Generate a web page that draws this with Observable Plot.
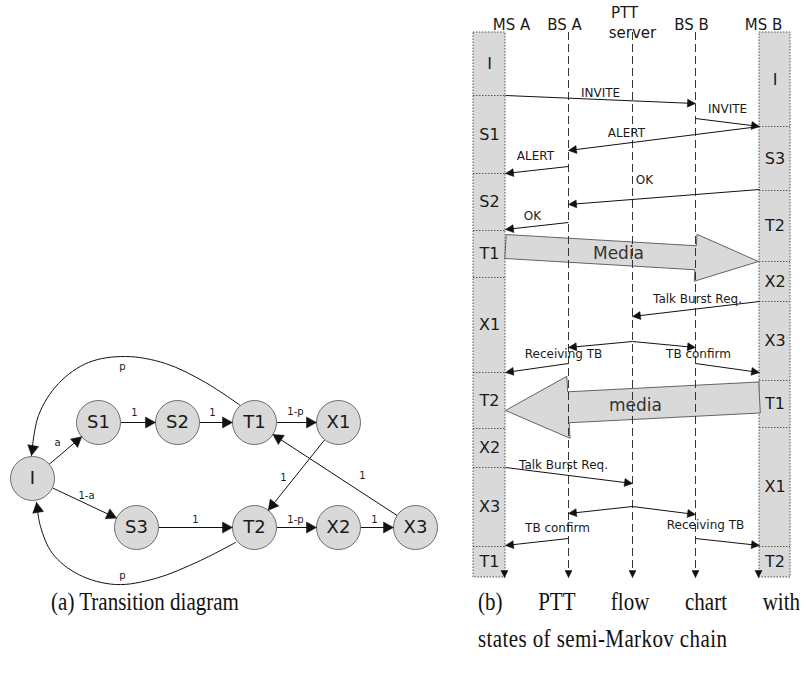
<!DOCTYPE html>
<html>
<head>
<meta charset="utf-8">
<script src="https://cdn.jsdelivr.net/npm/d3@7"></script>
<script src="https://cdn.jsdelivr.net/npm/@observablehq/plot@0.6"></script>
<style>
  body { margin: 0; background: #fff; }
  #wrap { position: relative; width: 806px; height: 673px; overflow: hidden; }
  .cap { position: absolute; font-family: "Liberation Serif", "Times New Roman", serif; font-size: 21px; color: #111; line-height: 1; transform: scaleY(1.15); transform-origin: 50% 50%; }
  #capA { left: 0; width: 290px; text-align: center; top: 592px; }
  #capB1 { left: 478px; width: 322px; top: 592px; text-align: justify; text-align-last: justify; }
  #capB2 { left: 478px; top: 629px; white-space: nowrap; letter-spacing: 0.4px; }
</style>
</head>
<body>
<div id="wrap">
  <div id="fig"></div>
  <div class="cap" id="capA">(a) Transition diagram</div>
  <div class="cap" id="capB1">(b) PTT flow chart with</div>
  <div class="cap" id="capB2">states of semi-Markov chain</div>
</div>
<script>
// ---------- (a) transition diagram data ----------
const nodeIds = ["I", "S1", "S2", "T1", "X1", "S3", "T2", "X2", "X3"];
const nodeX   = [32, 98, 177, 254, 338, 136, 254, 338, 415];
const nodeY   = [478, 422, 422, 422, 422, 527, 527, 527, 527];

const edgeFrom   = ["I", "I", "S1", "S2", "T1", "X1", "X3", "S3", "T2", "X2"];
const edgeTo     = ["S1", "S3", "S2", "T1", "X1", "T2", "T1", "T2", "X2", "X3"];
const edgeLabels = ["a", "1-a", "1", "1", "1-p", "1", "1", "1", "1-p", "1"];
const edgeLabelX = [57, 86, 134, 212, 295, 283, 362, 195, 295, 374];
const edgeLabelY = [442, 495, 412, 412, 411, 477, 475, 519, 519, 519];

// return arcs labelled "p" (T1 -> I over the top, T2 -> I under the bottom)
const arcLabels = ["p", "p"];
const arcLabelX = [122, 122];
const arcLabelY = [366, 575];
const arcTopX = [240, 205, 165, 125, 88, 58, 38, 31];
const arcTopY = [405, 382, 363, 356, 362, 383, 415, 455];
const arcBotX = [235, 200, 155, 115, 78, 52, 40, 36];
const arcBotY = [542, 560, 578, 584, 574, 553, 526, 502];

// ---------- (b) PTT flow chart data ----------
const headerText = ["MS A", "BS A", "PTT", "server", "BS B", "MS B"];
const headerX    = [511, 564, 624, 632, 691, 763];
const headerY    = [25, 25, 13, 33, 25, 25];

const lifelineNames = ["MS A", "BS A", "PTT server", "BS B", "MS B"];
const lifelineX     = [504, 568, 632, 695, 758];

const msAStates = ["I", "S1", "S2", "T1", "X1", "T2", "X2", "X3", "T1"];
const msABounds = [32, 95, 173, 230, 277, 372, 428, 467, 546, 577];
const msBStates = ["I", "S3", "T2", "X2", "X3", "T1", "X1", "T2"];
const msBBounds = [32, 126, 190, 261, 301, 380, 427, 546, 577];

// message arrows (head at the end point)
const msgX1 = [505, 695, 759, 568, 759, 568, 759, 632, 632, 568, 695, 505, 632, 632, 568, 695];
const msgY1 = [95, 118, 126, 166, 189, 222, 301, 341, 341, 363, 363, 467, 506, 506, 538, 538];
const msgX2 = [695, 759, 568, 505, 568, 505, 632, 568, 695, 505, 759, 632, 568, 695, 505, 759];
const msgY2 = [103, 126, 150, 173, 204, 229, 316, 347, 347, 372, 372, 483, 513, 514, 545, 545];

const msgLabels = ["INVITE", "INVITE", "ALERT", "ALERT", "OK", "OK", "Talk Burst Req.", "Receiving TB", "TB confirm", "Talk Burst Req.", "TB confirm", "Receiving TB"];
const msgLabelX = [600, 727, 626, 535, 644, 532, 697, 563, 698, 563, 557, 705];
const msgLabelY = [93, 109, 133, 156, 180, 216, 299, 354, 354, 465, 528, 525];

// media streams (block arrows)
const mediaLabels = ["Media", "media"];
const mediaFromX = [505, 759];
const mediaFromY = [246, 397];
const mediaToX   = [758, 505];
const mediaToY   = [261, 410];
const mediaLabelX = [618, 635];
const mediaLabelY = [253, 405];

// ---------- build mark data ----------
const R = 22;
const nodes = nodeIds.map((id, i) => ({id, x: nodeX[i], y: nodeY[i]}));
const nodeById = Object.fromEntries(nodes.map(n => [n.id, n]));

let heads = [];
let hid = 0;
function addHead(tx, ty, fx, fy, len, half) {
  const dx = tx - fx, dy = ty - fy, L = Math.hypot(dx, dy), ux = dx / L, uy = dy / L;
  const bx = tx - ux * len, by = ty - uy * len;
  const id = hid++;
  heads.push({id, x: tx, y: ty}, {id, x: bx - uy * half, y: by + ux * half},
             {id, x: bx + uy * half, y: by - ux * half}, {id, x: tx, y: ty});
}

const edgeSegs = edgeFrom.map((f, i) => {
  const a = nodeById[f], b = nodeById[edgeTo[i]];
  const dx = b.x - a.x, dy = b.y - a.y, L = Math.hypot(dx, dy), ux = dx / L, uy = dy / L;
  const sx = a.x + ux * R, sy = a.y + uy * R, tx = b.x - ux * R, ty = b.y - uy * R;
  addHead(tx, ty, sx, sy, 10, 5.5);
  return {x1: sx, y1: sy, x2: tx - ux * 5, y2: ty - uy * 5};
});
const edgeText = edgeLabels.map((t, i) => ({t, x: edgeLabelX[i], y: edgeLabelY[i]}));

const arcs = [];
arcTopX.forEach((x, i) => arcs.push({arc: "top", x, y: arcTopY[i]}));
arcBotX.forEach((x, i) => arcs.push({arc: "bot", x, y: arcBotY[i]}));
{
  const n = arcTopX.length - 1;
  addHead(arcTopX[n], arcTopY[n], arcTopX[n - 1], arcTopY[n - 1], 10, 5.5);
  const m = arcBotX.length - 1;
  addHead(arcBotX[m], arcBotY[m], arcBotX[m - 1], arcBotY[m - 1], 10, 5.5);
}
const arcText = arcLabels.map((t, i) => ({t, x: arcLabelX[i], y: arcLabelY[i]}));

// flow chart
const boxes = [
  {x1: 473, x2: 505, y1: msABounds[0], y2: msABounds[msABounds.length - 1]},
  {x1: 759, x2: 790, y1: msBBounds[0], y2: msBBounds[msBBounds.length - 1]}
];
const seps = [];
msABounds.slice(1, -1).forEach(y => seps.push({y, x1: 473, x2: 505}));
msBBounds.slice(1, -1).forEach(y => seps.push({y, x1: 759, x2: 790}));
const stateText = [];
msAStates.forEach((s, i) => stateText.push({t: s, x: 489, y: (msABounds[i] + msABounds[i + 1]) / 2}));
msBStates.forEach((s, i) => stateText.push({t: s, x: 774.5, y: (msBBounds[i] + msBBounds[i + 1]) / 2}));

const headers = headerText.map((t, i) => ({t, x: headerX[i], y: headerY[i]}));
const lifelines = lifelineNames.map((name, i) => ({name, x: lifelineX[i]}));
const dashedLifelines = lifelines.filter(d => d.name !== "MS A" && d.name !== "MS B");
lifelines.forEach(d => addHead(d.x, 577, d.x, 560, 7, 3.5));

const msgs = msgX1.map((x1, i) => {
  const x2 = msgX2[i], y2 = msgY2[i], y1 = msgY1[i];
  addHead(x2, y2, x1, y1, 8, 4);
  const L = Math.hypot(x2 - x1, y2 - y1);
  return {x1, y1, x2: x2 - (x2 - x1) / L * 4, y2: y2 - (y2 - y1) / L * 4};
});
const msgText = msgLabels.map((t, i) => ({t, x: msgLabelX[i], y: msgLabelY[i]}));

const mediaBody = [12, 15.5], mediaHead = [23.5, 31], mediaHeadLen = 63;
const mediaPolys = [];
mediaLabels.forEach((lab, i) => {
  const sx = mediaFromX[i], sy = mediaFromY[i], tx = mediaToX[i], ty = mediaToY[i];
  const dx = tx - sx, dy = ty - sy, L = Math.hypot(dx, dy), ux = dx / L, uy = dy / L;
  const nx = -uy, ny = ux;
  const bx = tx - ux * mediaHeadLen, by = ty - uy * mediaHeadLen;
  const bh = mediaBody[i], hh = mediaHead[i];
  const pts = [
    [sx + nx * bh, sy + ny * bh], [bx + nx * bh, by + ny * bh], [bx + nx * hh, by + ny * hh],
    [tx, ty], [bx - nx * hh, by - ny * hh], [bx - nx * bh, by - ny * bh], [sx - nx * bh, sy - ny * bh],
    [sx + nx * bh, sy + ny * bh]
  ];
  pts.forEach(([x, y]) => mediaPolys.push({m: lab, x, y}));
});
const mediaText = mediaLabels.map((t, i) => ({t, x: mediaLabelX[i], y: mediaLabelY[i]}));

const SANS = "DejaVu Sans, Verdana, sans-serif";

const chart = Plot.plot({
  width: 806,
  height: 590,
  margin: 0,
  x: {domain: [0, 806], range: [0, 806], axis: null},
  y: {domain: [0, 590], range: [0, 590], axis: null},
  style: {background: "#fff", overflow: "visible"},
  marks: [
    // (a)
    Plot.line(arcs, {x: "x", y: "y", z: "arc", curve: "catmull-rom", stroke: "#111", strokeWidth: 1}),
    Plot.link(edgeSegs, {x1: "x1", y1: "y1", x2: "x2", y2: "y2", stroke: "#111", strokeWidth: 1}),
    Plot.dot(nodes, {x: "x", y: "y", r: R, fill: "#d9d9d9", stroke: "#6e6e6e", strokeWidth: 1}),
    Plot.text(nodes, {x: "x", y: "y", text: "id", fontFamily: SANS, fontSize: 18, fill: "#1a1a1a"}),
    Plot.text(edgeText, {x: "x", y: "y", text: "t", fontFamily: SANS, fontSize: 10, fill: "#1a1a1a"}),
    Plot.text(arcText, {x: "x", y: "y", text: "t", fontFamily: SANS, fontSize: 10, fill: "#1a1a1a"}),
    // (b)
    Plot.rect(boxes, {x1: "x1", x2: "x2", y1: "y1", y2: "y2", fill: "#d9d9d9", stroke: "#555", strokeWidth: 1, strokeDasharray: "1.5,1.5"}),
    Plot.ruleY(seps, {y: "y", x1: "x1", x2: "x2", stroke: "#555", strokeWidth: 1, strokeDasharray: "1.5,1.5"}),
    Plot.line(mediaPolys, {x: "x", y: "y", z: "m", curve: "linear", fill: "#d9d9d9", stroke: "#555", strokeWidth: 0.9}),
    Plot.ruleX(dashedLifelines, {x: "x", y1: 32, y2: 572, stroke: "#333", strokeWidth: 1, strokeDasharray: "8,4"}),
    Plot.link(msgs, {x1: "x1", y1: "y1", x2: "x2", y2: "y2", stroke: "#111", strokeWidth: 1}),
    Plot.line(heads, {x: "x", y: "y", z: "id", curve: "linear", fill: "#111", stroke: "#111", strokeWidth: 0.5}),
    Plot.text(headers, {x: "x", y: "y", text: "t", fontFamily: SANS, fontSize: 15, fill: "#1a1a1a"}),
    Plot.text(stateText, {x: "x", y: "y", text: "t", fontFamily: SANS, fontSize: 16, fill: "#1a1a1a"}),
    Plot.text(msgText, {x: "x", y: "y", text: "t", fontFamily: SANS, fontSize: 12, fill: "#1a1a1a"}),
    Plot.text(mediaText, {x: "x", y: "y", text: "t", fontFamily: SANS, fontSize: 17, fill: "#333"})
  ]
});
document.getElementById("fig").appendChild(chart);
</script>
</body>
</html>
